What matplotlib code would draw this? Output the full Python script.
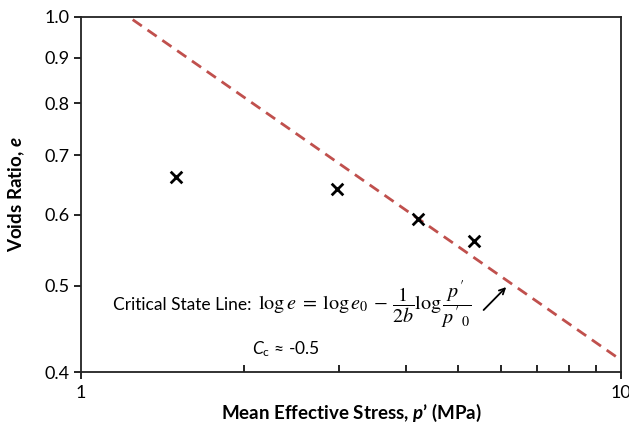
import matplotlib
matplotlib.use("Agg")
import matplotlib.pyplot as plt
from matplotlib.ticker import FixedLocator, NullFormatter, NullLocator
import numpy as np

plt.rcParams['font.family'] = ['Lato', 'DejaVu Sans']
plt.rcParams['mathtext.fontset'] = 'custom'
plt.rcParams['mathtext.rm'] = 'Lato'
plt.rcParams['mathtext.it'] = 'Lato:italic'
plt.rcParams['mathtext.bf'] = 'Lato:bold'
plt.rcParams['mathtext.bfit'] = 'Lato:italic:bold'

# measured states
p_test = [1.50, 2.98, 4.20, 5.34]
e_test = [0.662, 0.642, 0.594, 0.561]

# critical state line end points
p_csl = [1.0, 10.0]
e_csl = [1.09, 0.4125]

y_ticks = [0.4, 0.5, 0.6, 0.7, 0.8, 0.9, 1.0]
y_labels = ['0.4', '0.5', '0.6', '0.7', '0.8', '0.9', '1.0']

fig = plt.figure(figsize=(6.29, 4.25), dpi=100)
ax = fig.add_axes([0.1288, 0.1247, 0.8585, 0.8353])

ax.plot(p_csl, e_csl, color='#C0504D', lw=2.0, dashes=(4, 2.5), zorder=2)
ax.scatter(p_test, e_test, marker='x', s=70, color='black', linewidths=2.0, zorder=3)

ax.set_xscale('log')
ax.set_yscale('log')
ax.set_xlim(1, 10)
ax.set_ylim(0.4, 1.0)

ax.xaxis.set_major_locator(FixedLocator([1, 10]))
ax.set_xticklabels(['1', '10'])
ax.xaxis.set_minor_locator(FixedLocator([2, 3, 4, 5, 6, 7, 8, 9]))
ax.xaxis.set_minor_formatter(NullFormatter())
ax.yaxis.set_major_locator(FixedLocator(y_ticks))
ax.set_yticklabels(y_labels)
ax.yaxis.set_minor_locator(NullLocator())

ax.tick_params(axis='both', which='major', direction='out', length=5, width=1.2,
               labelsize=13, colors='black')
ax.tick_params(axis='x', which='minor', direction='in', length=5, width=1.2)
ax.tick_params(axis='x', which='major', pad=4)
for s in ax.spines.values():
    s.set_linewidth(1.3)
    s.set_color('#222222')

ax.set_xlabel("Mean Effective Stress, $\\mathbfit{p}$\u2019 (MPa)", fontsize=13.5,
              fontweight='bold', labelpad=1)
ax.set_ylabel("Voids Ratio, $\\mathbfit{e}$", fontsize=13.5, fontweight='bold',
              labelpad=12)

ax.text(1.146, 0.4755, "Critical State Line:", fontsize=12.5, va='center', ha='left')
ax.text(2.13, 0.4755,
        r"$\log e\;=\;\log e_0\,-\,\dfrac{1}{2b}\log\dfrac{p'}{p'_{\,0}}$",
        fontsize=14.5, va='center', ha='left', math_fontfamily='stix')
ax.annotate('', xy=(6.18, 0.5006), xytext=(5.52, 0.467),
            arrowprops=dict(arrowstyle='->', color='black', lw=1.3))
ax.text(2.07, 0.4245, r"$C_{\mathrm{c}}$ ≈ -0.5", fontsize=12.5, va='center',
        ha='left')

fig.savefig('out.png', dpi=100)
